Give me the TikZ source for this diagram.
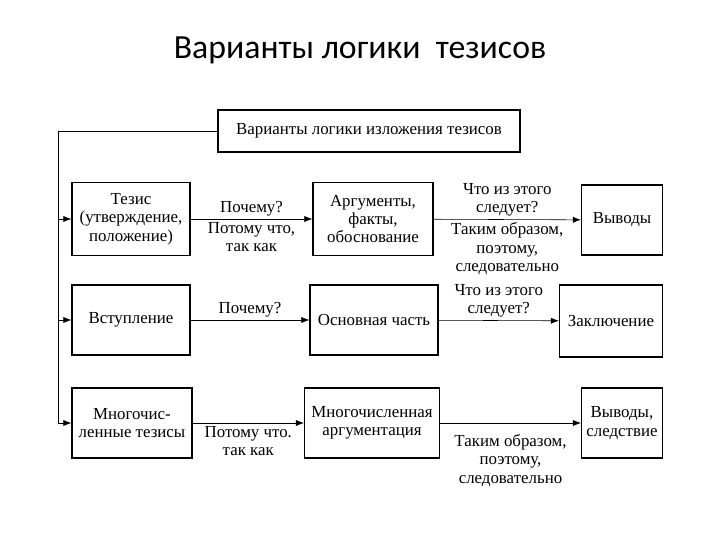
\documentclass[tikz,border=0pt]{standalone}
\usepackage{fontspec}
\setmainfont{Liberation Serif}
\newfontfamily\titlefont{Carlito}
\usetikzlibrary{arrows.meta}
\tikzset{
  box/.style={draw, thick, align=center, inner sep=2pt, font=\fontsize{12}{13}\selectfont},
  lbl/.style={align=center, inner sep=2pt, font=\fontsize{12}{13}\selectfont},
  arr/.style={-{Latex[length=2mm]}, thin}
}
\begin{document}
\begin{tikzpicture}[x=0.025cm, y=-0.025cm]
\useasboundingbox (0,0) rectangle (720,540);

% Title
\node[font=\titlefont\fontsize{24}{28}\selectfont] (title) at (360,50) {Варианты логики\ \ тезисов};

% Top box
\node[box, minimum width=302*0.025cm, minimum height=42*0.025cm] (top) at (369,131) {Варианты логики изложения тезисов};

% Row 1
\node[box, minimum width=118*0.025cm, minimum height=73*0.025cm] (tez) at (131,219) {Тезис\\(утверждение,\\положение)};
\node[box, minimum width=120*0.025cm, minimum height=73*0.025cm] (arg) at (373,219) {Аргументы,\\факты,\\обоснование};
\node[box, minimum width=81*0.025cm, minimum height=70*0.025cm] (vyv) at (622,220) {Выводы};
\draw[arr] (tez) -- (arg)
  node[lbl, midway, above] {Почему?}
  node[lbl, midway, below] {Потому что,\\так как};
\draw[arr] (arg) -- (vyv)
  node[lbl, midway, above] {Что из этого\\следует?}
  node[lbl, midway, below] {Таким образом,\\поэтому,\\следовательно};

% Row 2
\node[box, minimum width=118*0.025cm, minimum height=70*0.025cm] (vst) at (131,320) {Вступление};
\node[box, minimum width=128*0.025cm, minimum height=70*0.025cm] (osn) at (374,320) {Основная часть};
\node[box, minimum width=103*0.025cm, minimum height=72*0.025cm] (zak) at (611,321) {Заключение};
\draw[arr] (vst) -- (osn) node[lbl, midway, above] {Почему?};
\draw[arr] (osn) -- (zak) node[lbl, midway, above] {Что из этого\\следует?};

% Row 3
\node[box, minimum width=120*0.025cm, minimum height=70*0.025cm] (mtez) at (132,423) {Многочис-\\ленные тезисы};
\node[box, minimum width=135*0.025cm, minimum height=70*0.025cm] (marg) at (372,423) {Многочисленная\\аргументация};
\node[box, minimum width=81*0.025cm, minimum height=70*0.025cm] (vsl) at (622,423) {Выводы,\\следствие};
\draw[arr] (mtez) -- (marg) node[lbl, midway, below] {Потому что.\\так как};
\draw[arr] (marg) -- (vsl) node[lbl, midway, below=6pt] {Таким образом,\\поэтому,\\следовательно};

% Left feed line
\coordinate (c0) at (58,131);
\coordinate (c3) at (58,423);
\draw[thin] (top.west) -- (c0) -- (c3);
\draw[arr] (c0 |- tez) -- (tez);
\draw[arr] (c0 |- vst) -- (vst);
\draw[arr] (c3) -- (mtez);
\end{tikzpicture}
\end{document}
